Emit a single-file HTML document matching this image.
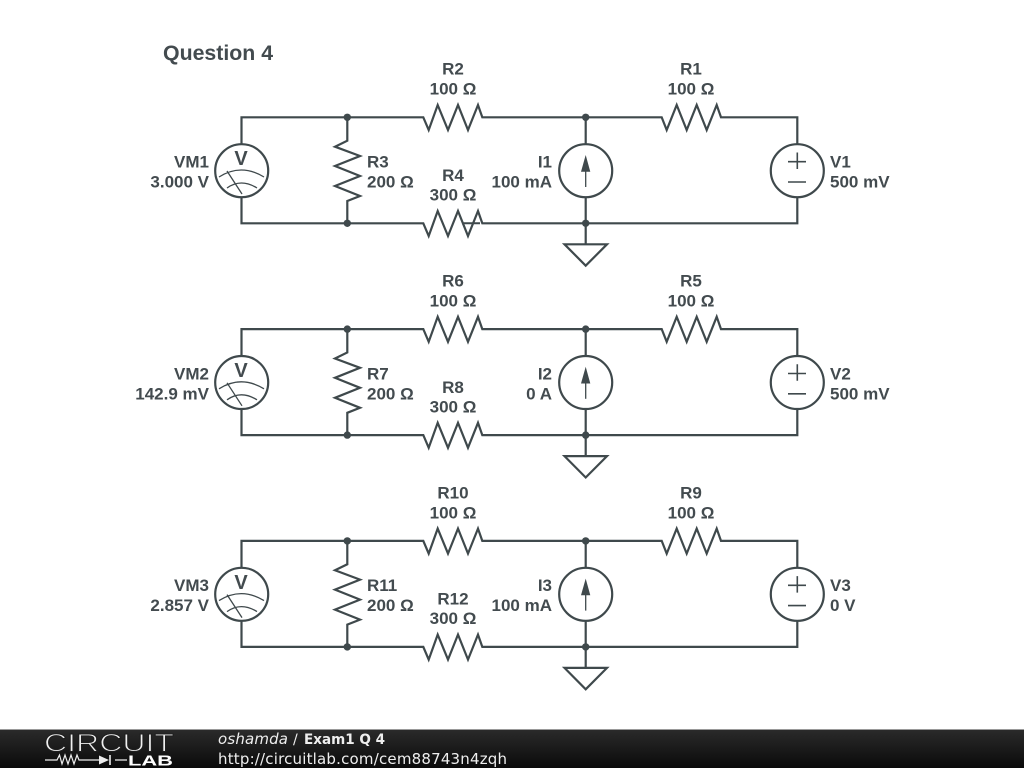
<!DOCTYPE html>
<html><head><meta charset="utf-8"><style>
html,body{margin:0;padding:0;background:#fff;width:1024px;height:768px;overflow:hidden}
svg{display:block}
.t{font-family:"Liberation Sans",sans-serif;font-weight:700;font-size:17px;fill:#434b4f}
.e{text-anchor:end}.m{text-anchor:middle}
.d{font-family:"DejaVu Sans",sans-serif;fill:#eee}
</style></head><body>
<svg width="1024" height="768" viewBox="0 0 1024 768" xmlns="http://www.w3.org/2000/svg">
<defs>
<linearGradient id="bar" x1="0" y1="0" x2="0" y2="1"><stop offset="0" stop-color="#2b2b2b"/><stop offset="1" stop-color="#0a0a0a"/></linearGradient>
<g id="row" fill="none" stroke="#3f494c" stroke-width="2.2" stroke-linejoin="miter">
<path d="M241.5 144V117.3H423.3L428.7 130 437.7 105 448 130 458 105 468 130 478 105 482.3 117.3H661.7L666.7 130 676.7 105 686.7 130 696.7 105 706.7 130 716.7 105 721 117.3H797.3V144"/>
<path d="M241.5 197V223.3H423.3L428.7 236 437.7 211 448 236 458 211 468 236 478 211 482.3 223.3H797.3V197"/>
<path d="M347.3 117.3V140.7L335 146.7 360 156 335 166 360 176 335 186 360 196 347.3 201V223.3"/>
<path d="M585.7 117.3V144M585.7 197V244"/>
<circle cx="241.7" cy="170.7" r="26.5"/>
<circle cx="585.7" cy="170.7" r="26.5"/>
<circle cx="797.3" cy="170.7" r="26.5"/>
<path d="M564.5 244.3H607L585.7 265.7Z"/>
<path d="M788 161.7H806M797.3 152.5V169M788 182H806" stroke-width="1.6"/>
<path d="M219 177Q241 163 264 177M227 188Q241 178 257 188M227 171L242 194" stroke-width="1.3"/>
<path d="M585.7 187V170" stroke-width="1.3"/>
<path d="M581 171.7H590.3L585.7 155Z" fill="#3f494c" stroke="none"/>
<circle cx="347.3" cy="117.3" r="3.7" fill="#3f494c" stroke="none"/>
<circle cx="347.3" cy="223.3" r="3.7" fill="#3f494c" stroke="none"/>
<circle cx="585.7" cy="117.3" r="3.7" fill="#3f494c" stroke="none"/>
<circle cx="585.7" cy="223.3" r="3.7" fill="#3f494c" stroke="none"/>
</g>
</defs>
<rect width="1024" height="768" fill="#fff"/>
<text class="t" x="163" y="60" style="font-size:21.300px">Question 4</text>

<use href="#row"/>
<path d="M462 223.3H480" stroke="#3f494c" stroke-width="2" fill="none"/>
<use href="#row" transform="translate(0 211.8)"/>
<use href="#row" transform="translate(0 423.6)"/>

<!-- row 1 -->
<text class="t m" x="241" y="165" style="font-size:20px">V</text>
<text class="t m" x="453" y="74.500">R2</text><text class="t m" x="453" y="94.500">100 Ω</text>
<text class="t m" x="691" y="74.500">R1</text><text class="t m" x="691" y="94.500">100 Ω</text>
<text class="t e" x="209" y="167.500">VM1</text><text class="t e" x="209" y="187.500">3.000 V</text>
<text class="t" x="367" y="167.500">R3</text><text class="t" x="367" y="187.500">200 Ω</text>
<text class="t m" x="453" y="181">R4</text><text class="t m" x="453" y="200.500">300 Ω</text>
<text class="t e" x="552" y="167.500">I1</text><text class="t e" x="552" y="187.500">100 mA</text>
<text class="t" x="830" y="167.500">V1</text><text class="t" x="830" y="187.500">500 mV</text>

<!-- row 2 -->
<text class="t m" x="241" y="377" style="font-size:20px">V</text>
<text class="t m" x="453" y="286.500">R6</text><text class="t m" x="453" y="306.500">100 Ω</text>
<text class="t m" x="691" y="286.500">R5</text><text class="t m" x="691" y="306.500">100 Ω</text>
<text class="t e" x="209" y="379.500">VM2</text><text class="t e" x="209" y="399.500">142.9 mV</text>
<text class="t" x="367" y="379.500">R7</text><text class="t" x="367" y="399.500">200 Ω</text>
<text class="t m" x="453" y="393">R8</text><text class="t m" x="453" y="412.500">300 Ω</text>
<text class="t e" x="552" y="379.500">I2</text><text class="t e" x="552" y="399.500">0 A</text>
<text class="t" x="830" y="379.500">V2</text><text class="t" x="830" y="399.500">500 mV</text>

<!-- row 3 -->
<text class="t m" x="241" y="589" style="font-size:20px">V</text>
<text class="t m" x="453" y="498.500">R10</text><text class="t m" x="453" y="518.500">100 Ω</text>
<text class="t m" x="691" y="498.500">R9</text><text class="t m" x="691" y="518.500">100 Ω</text>
<text class="t e" x="209" y="591">VM3</text><text class="t e" x="209" y="611">2.857 V</text>
<text class="t" x="367" y="591">R11</text><text class="t" x="367" y="611">200 Ω</text>
<text class="t m" x="453" y="604.500">R12</text><text class="t m" x="453" y="624">300 Ω</text>
<text class="t e" x="552" y="591">I3</text><text class="t e" x="552" y="611">100 mA</text>
<text class="t" x="830" y="591">V3</text><text class="t" x="830" y="611">0 V</text>

<!-- footer -->
<rect x="0" y="729" width="1024" height="39" fill="url(#bar)"/>
<rect x="0" y="729" width="1024" height="1" fill="#999"/>
<text x="44" y="751.500" textLength="130" lengthAdjust="spacingAndGlyphs" style="font-family:'Liberation Sans',sans-serif;font-size:25px" fill="#f0f0f0" stroke="#1f1f1f" stroke-width="1">CIRCUIT</text>
<path d="M45 760H57L59.500 755 62 764 65 755 68 764 71 755 74 764 77 755 79 760H99M115 760H127" fill="none" stroke="#eee" stroke-width="1.2"/>
<path d="M99 755.500L109 760 99 764.500Z" fill="#eee"/>
<path d="M110 755V765" stroke="#eee" stroke-width="1.6"/>
<text x="128" y="765.500" textLength="45" lengthAdjust="spacingAndGlyphs" style="font-family:'Liberation Sans',sans-serif;font-weight:700;font-size:15px" fill="#fff">LAB</text>
<text class="d" x="218" y="744" style="font-size:15px" font-style="italic" textLength="70">oshamda</text>
<text class="d" x="293" y="744" style="font-size:14px">/</text>
<text class="d" x="304" y="744" style="font-size:14px" font-weight="700" fill="#fff" textLength="81" lengthAdjust="spacingAndGlyphs">Exam1 Q 4</text>
<text class="d" x="218" y="764" style="font-size:15px" textLength="289">http://circuitlab.com/cem88743n4zqh</text>
</svg>
</body></html>
